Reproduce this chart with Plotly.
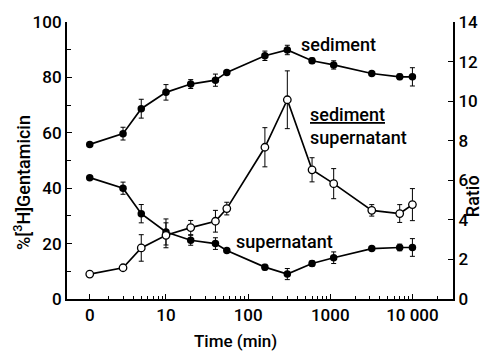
import plotly.graph_objects as go

# ---- data ----
time_min = [0, 3, 5, 10, 20, 40, 55, 160, 300, 600, 1100, 3200, 7000, 10000]
sediment = [55.8, 59.7, 68.7, 74.6, 77.6, 79.0, 81.8, 87.8, 89.9, 86.0, 84.5, 81.4, 80.2, 80.2]
sediment_err = [0, 2.3, 3.4, 2.8, 1.6, 2.2, 0, 1.7, 1.7, 1.0, 1.5, 0, 1.0, 3.3]
supernatant = [43.8, 40.0, 30.8, 24.2, 21.2, 20.0, 17.5, 11.5, 9.0, 12.8, 14.9, 18.2, 18.6, 18.6]
supernatant_err = [0, 2.2, 3.3, 4.7, 1.8, 2.1, 0, 1.0, 2.0, 1.0, 2.1, 0, 1.2, 3.2]
ratio = [1.26, 1.58, 2.58, 3.22, 3.61, 3.93, 4.57, 7.67, 10.07, 6.53, 5.83, 4.48, 4.32, 4.77]
ratio_err = [0, 0, 0.67, 0.63, 0.36, 0.55, 0.32, 0.99, 1.46, 0.61, 0.76, 0.29, 0.45, 0.81]

x_tick_vals = [10, 100, 1000, 10000]
x_tick_text = ["10", "100", "1000", "10 000"]

# time 0 cannot sit on a log axis: it is drawn at this stand-in position
ZERO_POS = 1.18
xpos = [t if t > 0 else ZERO_POS for t in time_min]

minor_vals = [m * 10 ** e for e in range(0, 5) for m in range(2, 10) if m * 10 ** e < 30000]

FONT = "Roboto"
WEIGHT = 500
BLACK = "black"

fig = go.Figure()

def err(arr):
    return dict(type="data", array=arr, visible=True, color=BLACK, thickness=1, width=2.5)

fig.add_trace(go.Scatter(
    x=xpos, y=sediment, mode="lines+markers", name="sediment",
    line=dict(color=BLACK, width=1.7),
    marker=dict(color=BLACK, size=7.5, symbol="circle"),
    error_y=err(sediment_err),
))
fig.add_trace(go.Scatter(
    x=xpos, y=supernatant, mode="lines+markers", name="supernatant",
    line=dict(color=BLACK, width=1.7),
    marker=dict(color=BLACK, size=7.5, symbol="circle"),
    error_y=err(supernatant_err),
))
fig.add_trace(go.Scatter(
    x=xpos, y=ratio, mode="lines+markers", name="ratio", yaxis="y2",
    line=dict(color=BLACK, width=1.7),
    marker=dict(color="white", size=7.5, symbol="circle", line=dict(color=BLACK, width=1.3)),
    error_y=err(ratio_err),
))

W, H = 490, 352
L, R, T, B = 67, 33, 21, 53

tickfont = dict(family=FONT, size=17, weight=WEIGHT, color=BLACK)

fig.update_layout(
    width=W, height=H,
    margin=dict(l=L, r=R, t=T, b=B),
    paper_bgcolor="white", plot_bgcolor="white",
    showlegend=False,
    font=dict(family=FONT, size=17, color=BLACK),
    xaxis=dict(
        type="log", range=[-0.205, 4.494],
        showgrid=False, zeroline=False,
        showline=True, linecolor=BLACK, linewidth=2,
        tickmode="array",
        tickvals=[ZERO_POS] + x_tick_vals, ticktext=["0"] + x_tick_text,
        ticks="inside", ticklen=5, tickwidth=1.2, tickcolor=BLACK,
        minor=dict(tickvals=minor_vals, ticks="inside", ticklen=3, tickwidth=1, tickcolor=BLACK),
        tickfont=tickfont,
    ),
    yaxis=dict(
        range=[0, 100], showgrid=False, zeroline=False,
        showline=True, linecolor=BLACK, linewidth=2,
        tickmode="array", tickvals=[0, 20, 40, 60, 80, 100],
        ticks="inside", ticklen=5, tickwidth=1.2, tickcolor=BLACK,
        minor=dict(dtick=10, ticks="inside", ticklen=4, tickwidth=1, tickcolor=BLACK),
        tickfont=tickfont,
    ),
    yaxis2=dict(
        range=[0, 14], overlaying="y", side="right",
        showgrid=False, zeroline=False,
        showline=True, linecolor=BLACK, linewidth=2,
        tickmode="array", tickvals=[0, 2, 4, 6, 8, 10, 12, 14],
        ticks="inside", ticklen=5, tickwidth=1.2, tickcolor=BLACK,
        tickfont=tickfont,
    ),
)

pw, ph = W - L - R, H - T - B
def px(xp):
    return (xp - L) / pw
def py(yp):
    return (H - B - yp) / ph

annos = [
    dict(text="sediment", x=px(341), y=py(44), size=18, angle=0, xanchor="center", align="center"),
    dict(text="<u>sediment</u><br>supernatant", x=px(311), y=py(125), size=18, angle=0, xanchor="left", align="left"),
    dict(text="supernatant", x=px(287), y=py(241), size=18, angle=0, xanchor="center", align="center"),
    dict(text="%[<sup>3</sup>H]Gentamicin", x=px(22), y=py(182), size=18, angle=-90, xanchor="center", align="center"),
    dict(text="Ratio", x=px(477), y=py(196), size=18, angle=-90, xanchor="center", align="center"),
    dict(text="Time (min)", x=px(237), y=py(341), size=17, angle=0, xanchor="center", align="center"),
]
for a in annos:
    fig.add_annotation(
        text=a["text"], x=a["x"], y=a["y"], xref="paper", yref="paper",
        showarrow=False, textangle=a["angle"], xanchor=a["xanchor"], yanchor="middle",
        align=a["align"], font=dict(family=FONT, size=a["size"], weight=WEIGHT, color=BLACK),
    )

fig.write_html("out.html")
